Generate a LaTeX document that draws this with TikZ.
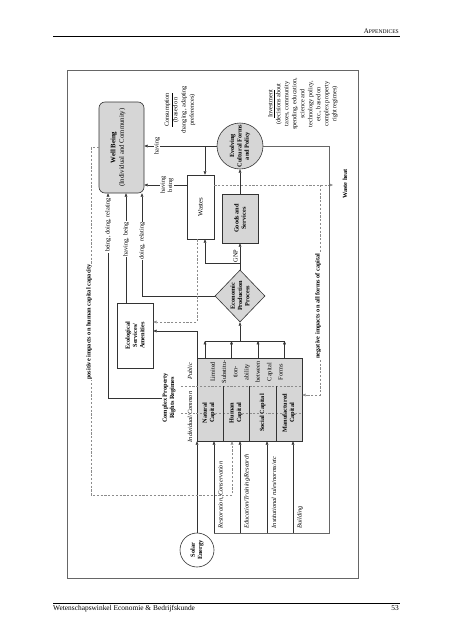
\documentclass[tikz,border=0pt]{standalone}
\usepackage{fontspec}
\setmainfont{Liberation Serif}
\usetikzlibrary{arrows.meta,shapes.geometric}
\begin{document}
\begin{tikzpicture}[x=1pt,y=-1pt,
  ln/.style={draw=black!80, line width=0.5pt},
  tip/.style={-{Triangle[length=3.4pt,width=2.8pt]}},
  arr/.style={ln, tip},
  dsh/.style={draw=black!45, line width=0.45pt, dash pattern=on 2.2pt off 1.6pt},
  darr/.style={dsh, tip},
  shp/.style={draw=black!80, line width=0.6pt, inner sep=0pt},
  gshp/.style={shp, fill=black!16},
  wshp/.style={shp, fill=white},
  rt/.style={rotate=90, align=center, inner sep=0.6pt, font=\fontsize{6.3}{7.3}\selectfont},
  rb/.style={rt, font=\fontsize{6.3}{7.3}\selectfont\bfseries},
  ri/.style={rt, font=\fontsize{6.3}{7.3}\selectfont\itshape},
  onl/.style={fill=white},
]
\useasboundingbox (0,0) rectangle (452,640);
\fill[white] (0,0) rectangle (452,640);

% header / footer
\draw[line width=0.8pt] (53,36) -- (400,36);
\node[anchor=base east, inner sep=0pt, font=\fontsize{7}{8}\selectfont] (hdr) at (399,33.5) {A{\fontsize{5.6}{6}\selectfont PPENDICES}};
\draw[line width=0.8pt] (53,603) -- (400,603);
\node[anchor=base west, inner sep=0pt, font=\fontsize{7.4}{8}\selectfont] (ftr) at (53,610.5) {Wetenschapswinkel Economie \& Bedrijfskunde};
\node[anchor=base east, inner sep=0pt, font=\fontsize{7.4}{8}\selectfont] (pgn) at (399,610.5) {53};

% frame
\draw[draw=black!60, line width=0.6pt] (67,70) rectangle (358,578);

% ---------- shapes ----------
\node[gshp, rounded corners=6pt, minimum width=45pt, minimum height=91pt] (wb) at (121.5,147.5) {};
\node[rt, font=\fontsize{6.8}{8.6}\selectfont] (wbt) at (118,147.5) {\textbf{Well Being}\\(Individual and Community)};

\node[wshp, minimum width=27pt, minimum height=64pt] (wastes) at (200.5,207) {};
\node[rt, font=\fontsize{6.8}{8}\selectfont] (wastest) at (wastes) {Wastes};

\node[gshp, minimum width=36pt, minimum height=49pt] (goods) at (240,218.5) {};
\node[rb] (goodst) at (goods) {Goods and\\Services};

\node[gshp, circle, minimum size=46pt] (evol) at (240,146) {};
\node[rb] (evolt) at (evol) {Evolving\\Cultural Forms\\and Policy};

\node[gshp, diamond, minimum width=50pt, minimum height=52pt] (epp) at (240,296) {};
\node[rb] (eppt) at (epp) {Economic\\Production\\Process};

\node[wshp, minimum width=36pt, minimum height=65pt] (eco) at (135,335.5) {};
\node[rb] (ecot) at (eco) {Ecological\\Services/\\Amenities};

\node[gshp, minimum width=105pt, minimum height=83pt] (cap) at (249.5,399.5) {};

\node[wshp, circle, minimum size=34pt] (solar) at (197,550) {};
\node[rb] (solart) at (solar) {Solar\\Energy};

% ---------- capital box internals ----------
\draw[dsh] (181,386) -- (cap.east |- 0,386);
\draw[dsh] (181,413) -- (cap.east |- 0,413);
\foreach \xx in {223,249.5,276} \draw[ln] (\xx,386) -- (\xx,441);
\node[rb, fill=black!16] (nat) at (209,413) {Natural\\Capital};
\node[rb, fill=black!16] (hum) at (236,413) {Human\\Capital};
\node[rb, fill=black!16] (soc) at (262.5,413) {Social Capital};
\node[rb, fill=black!16] (man) at (289,413) {Manufactured\\Capital};
\node[rt, font=\fontsize{6.3}{11.3}\selectfont] (lim) at (246.5,372) {Limited\\Substitu-\\tion-\\ability\\between\\Capital\\Forms};
\node[rb] (cprr) at (169,398) {Complex Property\\Rights Regimes};
\node[ri, anchor=west, fill=white] (indiv) at (190,443) {Individual/Common};
\node[ri] (publ) at (190,371) {Public};

% ---------- free texts ----------
\node[rt, font=\fontsize{6.3}{8.3}\selectfont] (cons) at (180,110) {\underline{Consumption}\\(based on\\changing, adapting\\preferences)};
\node[rt, font=\fontsize{6.3}{8}\selectfont] (inv) at (303,104) {\underline{Investment}\\(decisions about\\taxes, community\\spending, education,\\science and\\technology policy,\\etc., based on\\complex property\\right regimes)};
\node[rb] (wheat) at (345,184) {Waste heat};

% ---------- connectors ----------
% consumption
\coordinate (jw) at (205,146);
\draw[arr] (evol.west) -- (evol.west -| wb.east);
\node[rt, onl] (lhav) at (157,146) {having};
\draw[arr] (jw) -- (jw |- wastes.north);

% having, being (wastes -> well being) and waste heat
\coordinate (hb) at (187,185);
\draw[arr] (hb) -- (hb -| wb.east);
\node[rt, onl] (lhb) at (167,185) {having\\being};
\coordinate (wh) at (333,185);
\draw[darr] (wastes.east |- hb) -- (wh);

% negative impacts
\coordinate (n1) at (320,185);
\coordinate (n2) at (320,395);
\draw[darr] (n1) -- (n2) -- (n2 -| cap.east);
\node[rb, onl] (lneg) at (318,306) {negative impacts on all forms of capital};

% investment loop
\coordinate (iv1) at (329,146);
\coordinate (iv2) at (329,533);
\coordinate (ib1) at (214,533);
\coordinate (ib3) at (240,533);
\coordinate (ib4) at (267,533);
\coordinate (ib5) at (293,533);
\draw[ln, draw=black!60] (evol.east) -- (iv1) -- (iv2) -- (ib1);
\foreach \c in {ib1,ib3,ib4,ib5} \draw[arr] (\c) -- (\c |- cap.south);
\node[ri, anchor=west] (lrest) at (221,529) {Restoration, Conservation};
\node[ri, anchor=west] (ledu) at (247,529) {Education/Training/Research};
\node[ri, anchor=west] (linst) at (274,529) {Institutional rules/norms/etc};
\node[ri, anchor=west] (lbuild) at (300,529) {Building};

% solar
\draw[arr] (solar.north) -- (solar.north |- cap.south);

% positive impacts
\coordinate (p1) at (91,147.5);
\coordinate (p2) at (91,495);
\coordinate (p3) at (232,495);
\draw[darr] (wb.west) -- (p1) -- (p2) -- (p3) -- (p3 |- cap.south);
\node[rb, onl] (lpos) at (89,322) {positive impacts on human capital capacity};

% into well being from below
\coordinate (xa) at (108,398);
\draw[arr] (cprr.north) -- (xa) -- (xa |- wb.south);
\node[rt, onl] (lbdr) at (108,225) {being, doing, relating};
\coordinate (xb) at (126,0);
\draw[arr] (xb |- eco.north) -- (xb |- wb.south);
\node[rt, onl] (lhb2) at (126,239) {having, being};
\coordinate (xc) at (142,296);
\draw[arr] (epp.west) -- (xc) -- (xc |- wb.south);
\node[rt, onl] (ldr) at (142,241) {doing, relating};

% production
\coordinate (jd) at (240,263);
\coordinate (jd2) at (205,263);
\draw[arr] (epp.north) -- (goods.south);
\node[rt] (lgnp) at (235.5,256) {GNP};
\draw[arr] (jd) -- (jd2) -- (jd2 |- wastes.south);
\draw[arr] (goods.north) -- (evol.south);

% wastes -> eco, cap -> eco
\coordinate (we) at (197,322);
\draw[darr] (we |- wastes.south) -- (we) -- (we -| eco.east);
\coordinate (ce) at (197,331);
\draw[arr] (ce |- cap.north) -- (ce) -- (ce -| eco.east);

% capital -> production
\coordinate (b1) at (205,341);
\coordinate (b2) at (231.5,341);
\coordinate (b3) at (258,341);
\coordinate (b4) at (284.5,341);
\coordinate (bm) at (240,341);
\foreach \c in {b1,b2,b3,b4} \draw[arr] (\c |- cap.north) -- (\c);
\draw[ln] (b1) -- (b4);
\draw[arr] (bm) -- (epp.south);
\end{tikzpicture}
\end{document}
